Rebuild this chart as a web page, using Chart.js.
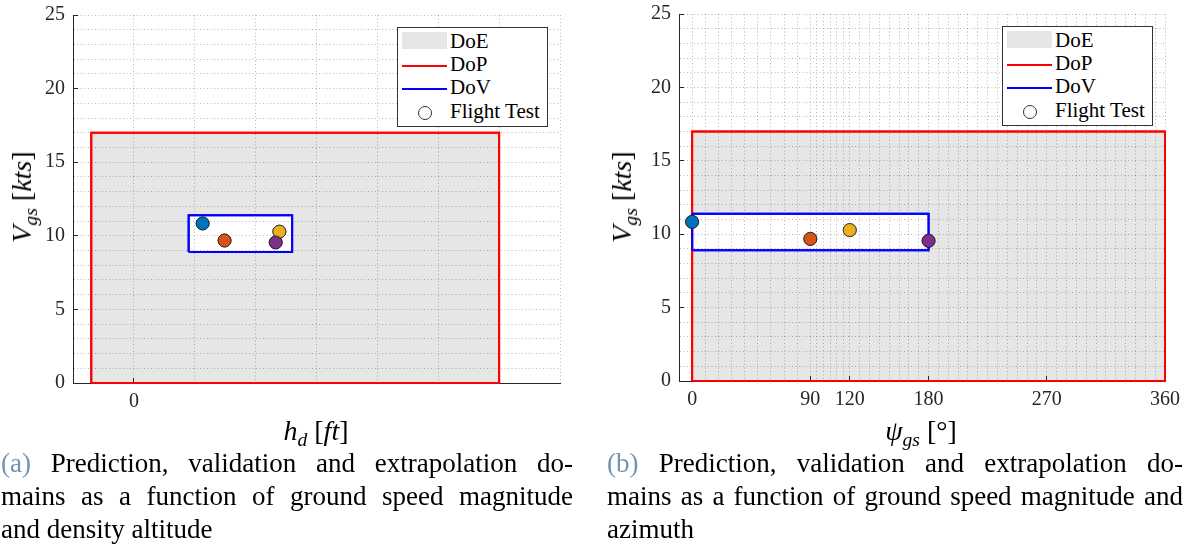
<!DOCTYPE html>
<html>
<head>
<meta charset="utf-8">
<script src="https://cdn.jsdelivr.net/npm/chart.js@4.4.0/dist/chart.umd.min.js"></script>
<style>
body { margin: 0; width: 1188px; height: 556px; background: #fff; position: relative; overflow: hidden; font-family: "Liberation Serif", "Times New Roman", "DejaVu Serif", serif; color: #262626; }
canvas { position: absolute; top: 0; }
.lbl { position: absolute; white-space: nowrap; font-size: 28px; line-height: 28px; color: #000; }
.lbl sub { font-size: 70%; vertical-align: -0.3em; line-height: 0; }
.xlbl { transform: translateX(-50%); }
.ylbl { transform: translate(-50%, -50%) rotate(-90deg); }
.legend { position: absolute; width: 151px; height: 100px; border: 1px solid #333; background: #fff; box-sizing: border-box; font-size: 21px; color: #000; }
.legend div { position: absolute; }
.legend .txt { left: 52px; line-height: 20px; white-space: nowrap; }
.caption { position: absolute; top: 447px; font-size: 27px; line-height: 33px; color: #000; }
.caption div { text-align: justify; text-align-last: justify; white-space: nowrap; }
.caption div.last { text-align-last: left; }
.tag { color: #7593b5; }
</style>
</head>
<body>

<canvas id="chartHd" width="590" height="450" style="left:0"></canvas>
<canvas id="chartPsi" width="588" height="450" style="left:600px"></canvas>

<div class="lbl ylbl" style="left:22px; top:197px"><i>V</i><sub><i>gs</i></sub> [<i>kts</i>]</div>
<div class="lbl xlbl" style="left:316px; top:417px"><i>h</i><sub><i>d</i></sub> [<i>ft</i>]</div>
<div class="lbl ylbl" style="left:622px; top:197px"><i>V</i><sub><i>gs</i></sub> [<i>kts</i>]</div>
<div class="lbl xlbl" style="left:921px; top:417px"><i>ψ</i><sub><i>gs</i></sub> [°]</div>

<div class="legend" style="left:397px; top:27px">
  <div style="left:4px; top:4px; width:45px; height:17px; background:#e6e6e6"></div>
  <div style="left:4px; top:37px; width:45px; height:2px; background:#f00"></div>
  <div style="left:4px; top:60px; width:45px; height:2px; background:#00f"></div>
  <div style="left:20px; top:78px; width:12px; height:12px; border:1px solid #333; border-radius:50%"></div>
  <div class="txt" style="top:3px">DoE</div>
  <div class="txt" style="top:26px">DoP</div>
  <div class="txt" style="top:49px">DoV</div>
  <div class="txt" style="top:73px">Flight Test</div>
</div>
<div class="legend" style="left:1002px; top:26px">
  <div style="left:4px; top:4px; width:45px; height:17px; background:#e6e6e6"></div>
  <div style="left:4px; top:37px; width:45px; height:2px; background:#f00"></div>
  <div style="left:4px; top:60px; width:45px; height:2px; background:#00f"></div>
  <div style="left:20px; top:78px; width:12px; height:12px; border:1px solid #333; border-radius:50%"></div>
  <div class="txt" style="top:3px">DoE</div>
  <div class="txt" style="top:26px">DoP</div>
  <div class="txt" style="top:49px">DoV</div>
  <div class="txt" style="top:73px">Flight Test</div>
</div>

<div class="caption" style="left:1px; width:572px">
  <div><span class="tag">(a)</span> Prediction, validation and extrapolation do-</div>
  <div>mains as a function of ground speed magnitude</div>
  <div class="last">and density altitude</div>
</div>
<div class="caption" style="left:607px; width:576px">
  <div><span class="tag">(b)</span> Prediction, validation and extrapolation do-</div>
  <div>mains as a function of ground speed magnitude and</div>
  <div class="last">azimuth</div>
</div>

<script>
// flight test points
const flightVgs = [10.84, 9.68, 10.28, 9.55]
const flightHd = [1130, 1490, 2390, 2330]
const flightPsi = [0, 90, 120, 180]
const flightColors = ['#0072BD', '#D95319', '#EDB120', '#7E2F8E']

// domains (min, max)
const dopVgs = [0, 17]
const dovVgs = [8.9, 11.4]
const dopHd = [-700, 6000]
const dovHd = [900, 2600]
const dopPsi = [0, 360]
const dovPsi = [0, 180]

// axes
const vgsRange = [0, 25]
const vgsLabelEvery = 5
const hdRange = [-1000, 7000]
const hdTickLabels = [0]
const psiRange = [-10, 360]
const psiTickLabels = [0, 90, 120, 180, 270, 360]

Chart.defaults.font.family = '"Liberation Serif", "Times New Roman", "DejaVu Serif", serif'
Chart.defaults.font.size = 20
Chart.defaults.color = '#262626'

function steps(a, b, d) {
    let out = []
    for (let v = a; v <= b + 1e-9; v += d) out.push(+v.toFixed(3))
    return out
}
// minor grid positions on the azimuth axis
const psiGrid = [].concat(steps(0, 90, 10), steps(95, 120, 5), steps(127.5, 360, 7.5))

function box(xr, yr) {
    return [
        { x: xr[0], y: yr[0] }, { x: xr[0], y: yr[1] }, { x: xr[1], y: yr[1] },
        { x: xr[1], y: yr[0] }, { x: xr[0], y: yr[0] }
    ]
}

// grid goes on top of the fills, so outlines and markers are drawn again after it
const redrawOnTop = {
    id: 'redrawOnTop',
    afterDraw(chart) {
        chart.data.datasets.forEach((ds, i) => {
            if (ds.onTop) chart.getDatasetMeta(i).controller.draw()
        })
    }
}

// dotted grid, short inward tick marks only where a label is shown
function gridStyle(isLabelled) {
    return {
        color: 'rgba(38,38,38,0.32)', lineWidth: 1, z: 1,
        drawTicks: true, tickLength: -5, tickWidth: 1,
        tickColor: (c) => c.tick && isLabelled(c.tick.value) ? '#262626' : 'rgba(0,0,0,0)'
    }
}
const borderStyle = { color: '#262626', width: 1, dash: [1, 2.5], z: 1 }

function makeChart(id, xData, dopX, dovX, xOpts, xLabelled, yWidth, xHeight, padRight, padTop) {
    const datasets = [
        {
            label: 'DoE', data: [{ x: dopX[0], y: dopVgs[1] }, { x: dopX[1], y: dopVgs[1] }],
            fill: 'origin', backgroundColor: '#e6e6e6', borderWidth: 0, pointRadius: 0, order: 4
        },
        {
            label: 'DoV fill', data: [{ x: dovX[0], y: dovVgs[1] }, { x: dovX[1], y: dovVgs[1] }],
            fill: { value: dovVgs[0] }, backgroundColor: '#ffffff', borderWidth: 0, pointRadius: 0, order: 3
        },
        {
            label: 'DoP', data: box(dopX, dopVgs), borderColor: '#ff0000', borderWidth: 2,
            pointRadius: 0, fill: false, order: 2, onTop: true
        },
        {
            label: 'DoV', data: box(dovX, dovVgs), borderColor: '#0000ff', borderWidth: 2,
            pointRadius: 0, fill: false, order: 1, onTop: true
        },
        {
            label: 'Flight Test', data: xData.map((x, i) => ({ x: x, y: flightVgs[i] })),
            showLine: false, pointRadius: 6.5, pointBackgroundColor: flightColors,
            pointBorderColor: '#222', pointBorderWidth: 0.8, order: 0, onTop: true
        }
    ]

    return new Chart(document.getElementById(id), {
        type: 'line',
        data: { datasets: datasets },
        plugins: [redrawOnTop],
        options: {
            responsive: false,
            animation: false,
            events: [],
            layout: { padding: { top: padTop, right: padRight, left: 0, bottom: 0 } },
            plugins: { legend: { display: false }, tooltip: { enabled: false } },
            scales: {
                x: Object.assign({
                    type: 'linear',
                    grid: gridStyle(xLabelled),
                    border: borderStyle,
                    afterFit: (s) => { s.height = xHeight; s.paddingLeft = 0; s.paddingRight = 0 }
                }, xOpts),
                y: {
                    type: 'linear',
                    min: vgsRange[0],
                    max: vgsRange[1],
                    grid: gridStyle((v) => v % vgsLabelEvery === 0),
                    border: borderStyle,
                    ticks: {
                        stepSize: 1,
                        autoSkip: false,
                        padding: 13,
                        callback: (v) => v % vgsLabelEvery === 0 ? v : ''
                    },
                    afterFit: (s) => { s.width = yWidth; s.paddingTop = 0; s.paddingBottom = 0 }
                }
            }
        }
    })
}

makeChart('chartHd', flightHd, dopHd, dovHd, {
    min: hdRange[0],
    max: hdRange[1],
    ticks: {
        stepSize: 1000, autoSkip: false, maxRotation: 0, padding: 12,
        callback: (v) => hdTickLabels.includes(v) ? v : ''
    }
}, (v) => hdTickLabels.includes(v), 73, 67, 30, 15)

makeChart('chartPsi', flightPsi, dopPsi, dovPsi, {
    min: psiRange[0],
    max: psiRange[1],
    afterBuildTicks: (s) => { s.ticks = psiGrid.map(v => ({ value: v })) },
    ticks: {
        autoSkip: false, maxRotation: 0, padding: 12,
        callback: (v) => psiTickLabels.includes(v) ? v : ''
    }
}, (v) => psiTickLabels.includes(v), 79, 69, 23, 14)
</script>
</body>
</html>
